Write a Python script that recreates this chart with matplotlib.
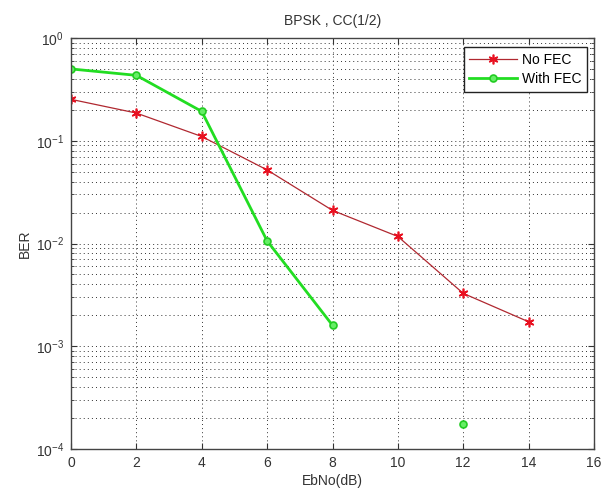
import numpy as np
import matplotlib
matplotlib.use("Agg")
import matplotlib.pyplot as plt
from matplotlib.ticker import LogLocator, NullFormatter, MultipleLocator

plt.rcParams['font.family'] = ['Liberation Sans', 'DejaVu Sans']
plt.rcParams['mathtext.fontset'] = 'custom'
plt.rcParams['mathtext.rm'] = 'Liberation Sans'
plt.rcParams['mathtext.it'] = 'Liberation Sans'

ebno = [0, 2, 4, 6, 8, 10, 12, 14]
ber_no_fec = [0.253, 0.186, 0.110, 0.052, 0.021, 0.0117, 0.00327, 0.00173]
ber_with_fec = [0.50, 0.433, 0.193, 0.0106, 0.0016, 0.0, 0.000177, 0.0]

title = "BPSK , CC(1/2)"
xlabel = "EbNo(dB)"
ylabel = "BER"
labels = ["No FEC", "With FEC"]

fig = plt.figure(figsize=(6.08, 4.91), dpi=100)
ax = fig.add_axes([71/608, 1-449/491, 523/608, 411/491])
ax.set_yscale('log', nonpositive='mask')

ax.plot(ebno, ber_no_fec, '-', marker=(6, 2, 0), color='#b02830', lw=0.9, ms=7,
        mec='#e81020', mfc='#e81020', mew=1.2, label=labels[0])
ax.plot(ebno, ber_with_fec, '-o', color='#22dd22', lw=2.0, ms=5,
        mec='#22cc22', mfc='#66ee66', mew=1.2, label=labels[1])

ax.set_xlim(0, 16)
ax.set_ylim(1e-4, 1)
ax.xaxis.set_major_locator(MultipleLocator(2))
ax.yaxis.set_major_locator(LogLocator(base=10, numticks=10))
ax.yaxis.set_minor_locator(LogLocator(base=10, subs=np.arange(2, 10), numticks=10))
ax.yaxis.set_minor_formatter(NullFormatter())

gstyle = dict(linestyle=(0, (1, 3.2)), color='#333333', lw=0.7)
ax.grid(True, which='major', axis='both', **gstyle)
ax.grid(True, which='minor', axis='y', **gstyle)

ax.tick_params(which='both', direction='in', top=True, right=True, labelsize=10, colors='#333333')
ax.tick_params(which='major', length=4, pad=5)
ax.tick_params(which='minor', length=2.5)
for s in ax.spines.values():
    s.set_color('#444444')
    s.set_linewidth(1.0)

ax.set_title(title, fontsize=10, color='#333333', pad=9)
ax.set_xlabel(xlabel, fontsize=10, color='#333333', labelpad=3)
ax.set_ylabel(ylabel, fontsize=10, color='#333333', labelpad=3)

leg = ax.legend(loc='upper right', bbox_to_anchor=(0.987, 0.978), fontsize=10,
                handlelength=3.4, fancybox=False, framealpha=1, edgecolor='#222222',
                borderaxespad=0, borderpad=0.4, labelspacing=0.4, handletextpad=0.4)
leg.get_frame().set_linewidth(1.0)

fig.savefig("out.png", dpi=100)
